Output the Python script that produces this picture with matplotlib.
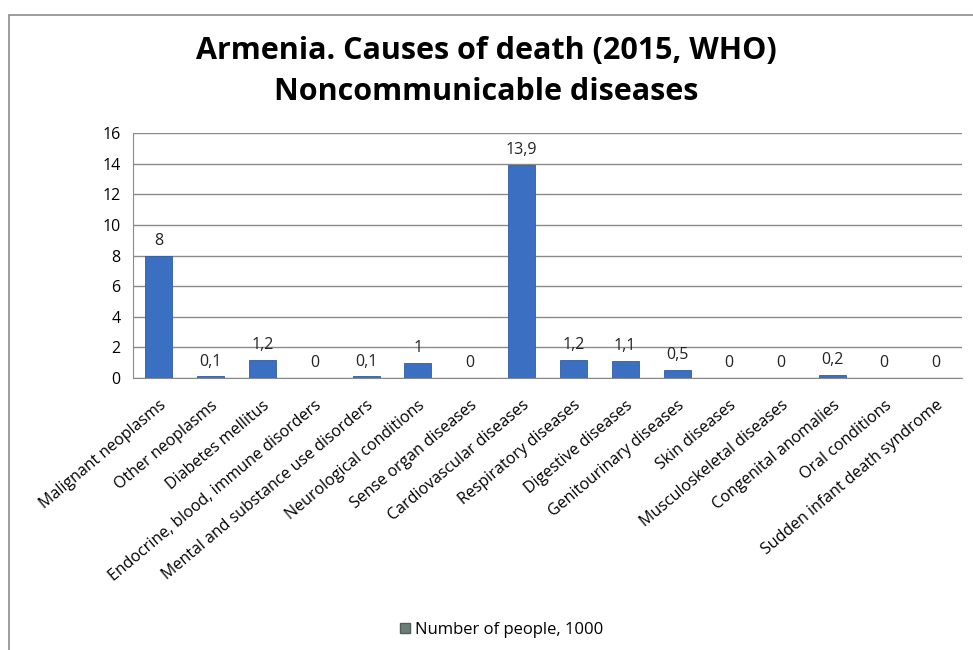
import matplotlib.pyplot as plt
from matplotlib.patches import Rectangle, Patch

# WHO 2015 estimates, thousands of deaths
causes = ["Malignant neoplasms", "Other neoplasms", "Diabetes mellitus",
          "Endocrine, blood, immune disorders", "Mental and substance use disorders",
          "Neurological conditions", "Sense organ diseases", "Cardiovascular diseases",
          "Respiratory diseases", "Digestive diseases", "Genitourinary diseases",
          "Skin diseases", "Musculoskeletal diseases", "Congenital anomalies",
          "Oral conditions", "Sudden infant death syndrome"]
deaths = [8, 0.1, 1.2, 0, 0.1, 1, 0, 13.9, 1.2, 1.1, 0.5, 0, 0, 0.2, 0, 0]
y_ticks = [0, 2, 4, 6, 8, 10, 12, 14, 16]

plt.rcParams['font.family'] = ['Open Sans', 'DejaVu Sans']

fig = plt.figure(figsize=(9.73, 6.5), dpi=100)
fig.patches.append(Rectangle((9 / 973, -0.1), 1.2, 1 - 15 / 650 + 0.1,
                             transform=fig.transFigure, fill=False,
                             edgecolor='#8c8c8c', linewidth=1.2))

ax = fig.add_axes([133 / 973, 1 - 378 / 650, (962 - 133) / 973, (378 - 133) / 650])

x = range(len(causes))
ax.bar(x, deaths, width=0.52, color='#3a6fc2', edgecolor='#2f5da8', linewidth=0.6, zorder=3)

for i, v in enumerate(deaths):
    txt = ('%g' % v).replace('.', ',')
    ax.annotate(txt, (i, v), xytext=(0, 5), textcoords='offset points',
                ha='center', va='bottom', fontsize=11.5, color='#222222')

ax.set_ylim(0, 16)
ax.set_xlim(-0.5, len(causes) - 0.5)
ax.set_yticks(y_ticks)
ax.set_yticklabels([str(t) for t in y_ticks], fontsize=11.5)
ax.yaxis.grid(True, color='#8a8a8a', linewidth=1.0, zorder=0)
ax.set_xticks(list(x))
ax.set_xticklabels(causes, rotation=40, ha='right', rotation_mode='anchor', fontsize=11.5)
ax.tick_params(axis='x', length=0, pad=14)
ax.tick_params(axis='y', length=0, pad=9)

for side in ['top', 'right']:
    ax.spines[side].set_visible(False)
ax.spines['left'].set_color('#8a8a8a')
ax.spines['bottom'].set_color('#8a8a8a')

fig.text(0.5, 1 - 51 / 650, "Armenia. Causes of death (2015, WHO)",
         ha='center', va='center', fontsize=22, fontweight='bold')
fig.text(0.5, 1 - 92 / 650, "Noncommunicable diseases",
         ha='center', va='center', fontsize=22, fontweight='bold')

handle = Patch(facecolor='#6b7f78', edgecolor='#4f5f58')
fig.legend([handle], ["Number of people, 1000"], loc='center',
           bbox_to_anchor=(502 / 973, 1 - 630 / 650), frameon=False,
           fontsize=12, handlelength=0.6, handleheight=0.6, handletextpad=0.3)

fig.savefig('out.png', dpi=100)
